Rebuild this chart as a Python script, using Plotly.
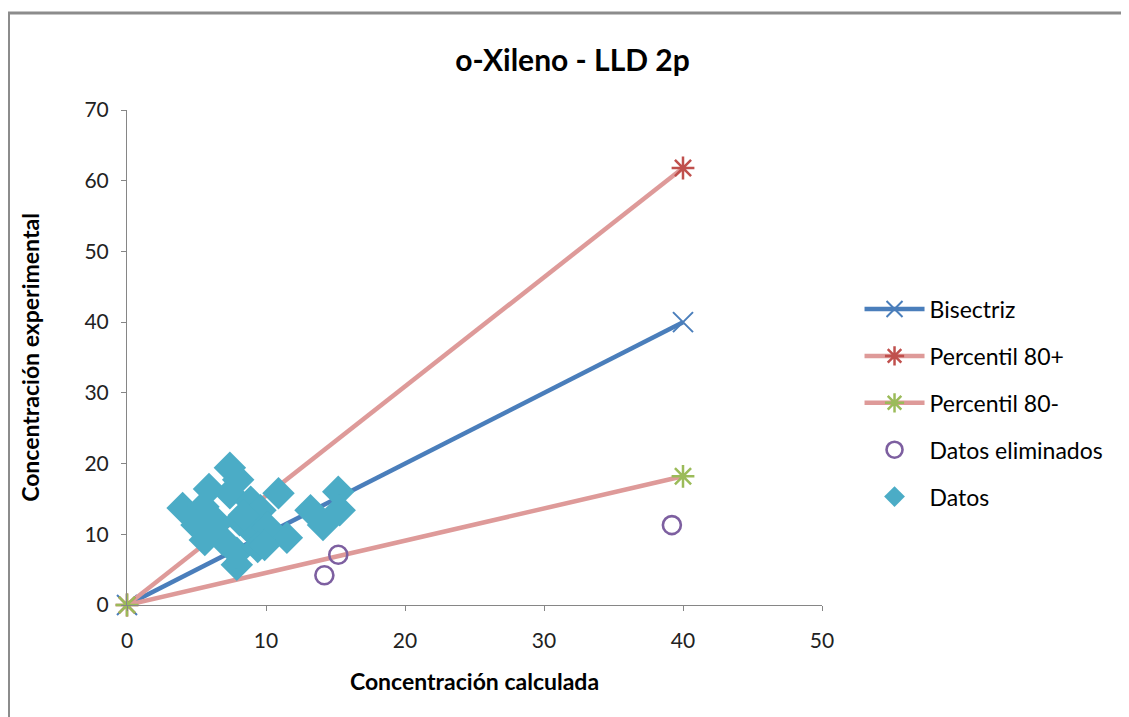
import plotly.graph_objects as go

# series endpoints (x = calculated, y = experimental)
line_x = [0, 40]
bisectriz_y = [0, 40]
p80_plus_y = [0, 61.8]
p80_minus_y = [0, 18.2]

# removed points
elim_x = [14.2, 15.2, 39.2]
elim_y = [4.2, 7.1, 11.3]

# data points
datos_x = [7.4, 8.0, 5.9, 7.4, 10.9, 4.0, 5.5, 8.9, 9.6, 15.2, 13.2, 15.3,
           14.1, 11.5, 5.6, 6.9, 8.9, 10.1, 7.9, 7.9, 9.4, 6.5, 8.1, 5.0,
           9.9, 8.4]
datos_y = [19.4, 17.7, 16.4, 15.8, 15.8, 13.7, 13.9, 14.6, 13.4, 16.0, 13.4, 13.4,
           11.3, 9.5, 9.2, 9.2, 10.6, 11.0, 5.7, 7.4, 8.2, 11.6, 12.0, 11.3,
           8.5, 12.7]

FONT = "Lato, 'Open Sans', sans-serif"
C_BLUE = "#4A7EBB"
C_PINK = "#DE9A99"
C_RED = "#C0504D"
C_GREEN = "#9BBB59"
C_PURPLE = "#7D5FA0"
C_CYAN = "#4BACC6"

fig = go.Figure()

fig.add_trace(go.Scatter(
    x=line_x, y=bisectriz_y, name="Bisectriz", mode="lines+markers",
    line=dict(color=C_BLUE, width=4.5),
    marker=dict(symbol="x-thin-open", size=20, color=C_BLUE, line=dict(width=2, color=C_BLUE)),
    legendgroup="a", cliponaxis=False,
))
fig.add_trace(go.Scatter(
    x=line_x, y=p80_plus_y, name="Percentil 80+", mode="lines+markers",
    line=dict(color=C_PINK, width=4.5),
    marker=dict(symbol="asterisk-open", size=19, color=C_RED, line=dict(width=2.5, color=C_RED)),
    legendgroup="b", cliponaxis=False,
))
fig.add_trace(go.Scatter(
    x=line_x, y=p80_minus_y, name="Percentil 80-", mode="lines+markers",
    line=dict(color=C_PINK, width=4.5),
    marker=dict(symbol="asterisk-open", size=19, color=C_GREEN, line=dict(width=2.5, color=C_GREEN)),
    legendgroup="c", cliponaxis=False,
))
fig.add_trace(go.Scatter(
    x=elim_x, y=elim_y, name="Datos eliminados", mode="markers",
    marker=dict(symbol="circle-open", size=18, color=C_PURPLE, line=dict(width=2.6, color=C_PURPLE)),
    legendgroup="d",
))
fig.add_trace(go.Scatter(
    x=datos_x, y=datos_y, name="Datos", mode="markers",
    marker=dict(symbol="diamond", size=25, color=C_CYAN),
    legendgroup="e",
))

axis_common = dict(
    showgrid=False, zeroline=False, showline=True, linecolor="#868686", linewidth=1,
    ticks="outside", ticklen=5, tickcolor="#868686",
    tickfont=dict(family=FONT, size=21, color="#222"),
)

fig.update_xaxes(
    range=[0, 50], dtick=10, ticklabelstandoff=12, **axis_common,
    title=dict(text="<b>Concentración calculada</b>", font=dict(family=FONT, size=23, color="#000"), standoff=22),
)
fig.update_yaxes(
    range=[0, 70], dtick=10, ticklabelstandoff=8, **axis_common,
    title=dict(text="<b>Concentración experimental</b>", font=dict(family=FONT, size=23, color="#000"), standoff=38),
)

# outer chart border (cut by the window on the right and bottom)
fig.add_shape(type="rect", xref="paper", yref="paper",
              x0=-0.1705, y0=-0.6, x1=1.6, y1=1.196,
              line=dict(color="#8C8C8C", width=3), layer="below")

fig.update_layout(
    width=1129, height=717,
    margin=dict(l=119, r=315, t=102, b=120),
    paper_bgcolor="white", plot_bgcolor="white",
    font=dict(family=FONT, size=18, color="#000"),
    title=dict(text="<b>o-Xileno - LLD 2p</b>", x=0.5, xanchor="center",
               y=0.927, yanchor="middle",
               font=dict(family=FONT, size=30, color="#000")),
    legend=dict(x=1.054, y=0.408, yanchor="middle", xanchor="left",
                traceorder="grouped", tracegroupgap=14,
                font=dict(family=FONT, size=23, color="#000"), itemwidth=60),
    showlegend=True,
)

fig.write_html("out.html")
